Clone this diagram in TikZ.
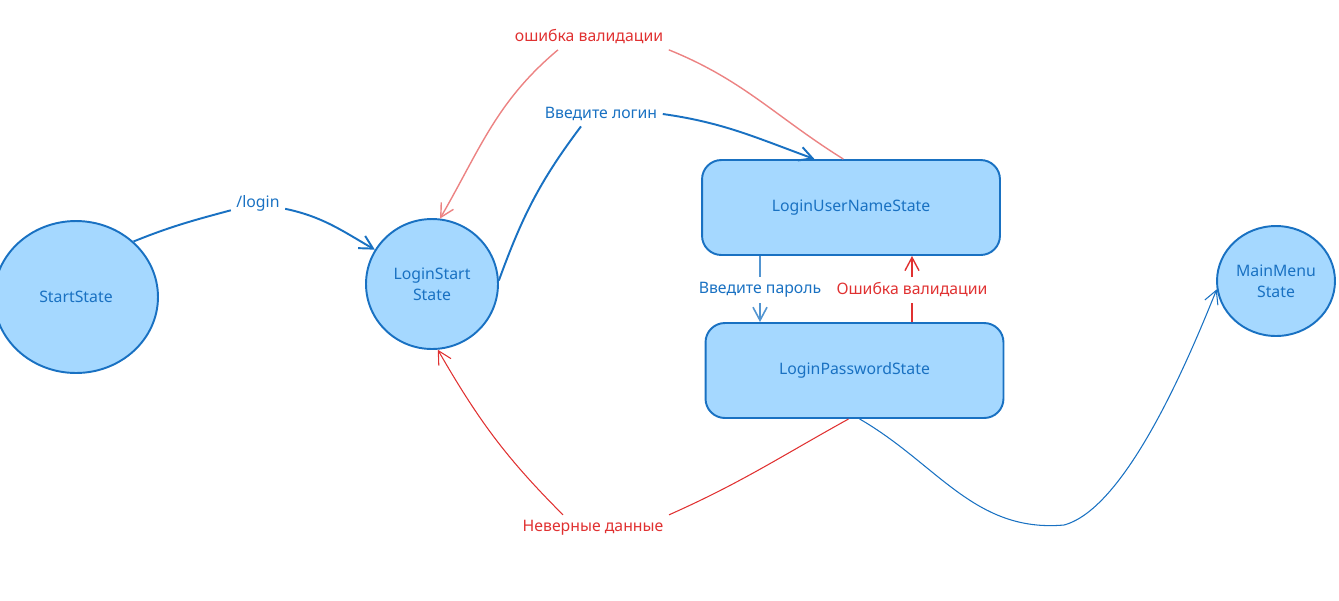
\documentclass[tikz,border=0pt]{standalone}
\usepackage{fontspec}
\setmainfont{Noto Sans}
\usetikzlibrary{shapes.geometric,arrows.meta}

\definecolor{stateline}{HTML}{1971C2}
\definecolor{statefill}{HTML}{A5D8FF}
\definecolor{errred}{HTML}{E03131}

\tikzset{
  state/.style={ellipse,draw=stateline,fill=statefill,line width=1.1pt,inner sep=0pt,text=stateline,align=center,font=\fontsize{9}{12}\selectfont},
  statebox/.style={rectangle,rounded corners=11pt,draw=stateline,fill=statefill,line width=1.1pt,minimum width=5.96cm,minimum height=1.9cm,text=stateline,font=\fontsize{9}{12}\selectfont},
  lbl/.style={inner sep=3pt,font=\fontsize{9}{12}\selectfont},
  goarrow/.style={->,draw=stateline,line width=1.1pt},
  failarrow/.style={->,draw=errred,line width=0.6pt}
}

\begin{document}
\begin{tikzpicture}[x=0.02cm,y=-0.02cm,>={Straight Barb[length=7.5pt,width=8pt]}]
  \useasboundingbox (0,0) rectangle (1339,600);

  \node[state,minimum width=3.28cm,minimum height=3.04cm] (start) at (76,297) {StartState};
  \node[state,minimum width=2.64cm,minimum height=2.6cm] (lstart) at (432,284) {LoginStart\\State};
  \node[statebox] (lun) at (851,207.5) {LoginUserNameState};
  \node[statebox] (lpw) at (854.5,370.5) {LoginPasswordState};
  \node[state,minimum width=2.36cm,minimum height=2.2cm] (mm) at (1276,281) {MainMenu\\State};

  \node[lbl,text=stateline] (lg) at (258,203) {/login};
  \node[lbl,text=stateline] (vl) at (601,114) {Введите логин};
  \node[lbl,text=errred] (ov) at (589,37) {ошибка валидации};
  \node[lbl,text=stateline] (vp) at (760,290) {Введите пароль};
  \node[lbl,text=errred] (ev) at (912,290) {Ошибка валидации};
  \node[lbl,text=errred] (nd) at (593,528) {Неверные данные};
  \coordinate (dip) at (1064,525);

  \draw[goarrow] (start.44) to[out=22,in=195] (lg) to[out=-12,in=150] (lstart.149);
  \draw[goarrow] (lstart.3) to[out=70,in=-127] ([xshift=-0.4cm]vl.south) (vl.east) to[out=-8,in=160] (lun.127);
  \draw[failarrow,draw=errred!60,line width=0.8pt] (lun.99) to[out=148,in=-22] (ov.south east) ([xshift=-0.62cm]ov.south) to[out=-140,in=60] (lstart.83);
  \draw[goarrow,draw=stateline!75,line width=0.9pt] (vp |- lun.south) -- (vp) -- (vp |- lpw.north);
  \draw[failarrow,line width=0.8pt] (ev |- lpw.north) -- (ev) -- (ev |- lun.south);
  \draw[failarrow] (lpw.-97) to[out=-151,in=24] (nd.north east) ([xshift=-0.6cm]nd.north) to[out=135,in=-60] (lstart.-85);
  \draw[goarrow,line width=0.6pt] (lpw.-84) to[out=-30,in=185] (dip) to[out=15,in=-112,looseness=0.6] (mm.188);

\end{tikzpicture}
\end{document}
